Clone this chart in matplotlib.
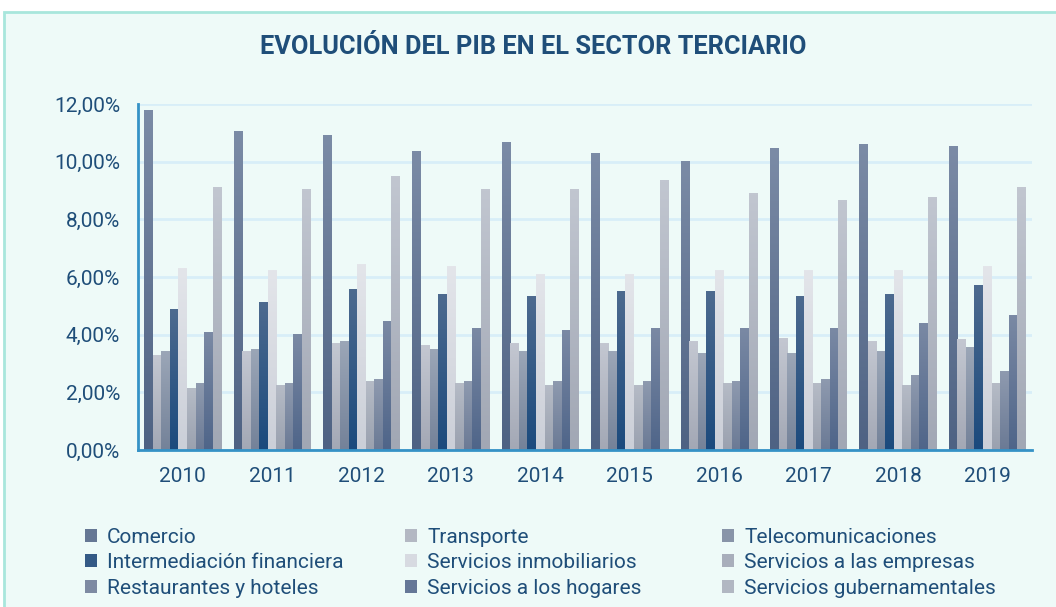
import numpy as np
import matplotlib.pyplot as plt
from matplotlib.patches import Patch, Rectangle
from matplotlib import font_manager
from matplotlib.ticker import FuncFormatter

years = ["2010", "2011", "2012", "2013", "2014", "2015", "2016", "2017", "2018", "2019"]

sectors = [
    "Comercio", "Transporte", "Telecomunicaciones",
    "Intermediación financiera", "Servicios inmobiliarios", "Servicios a las empresas",
    "Restaurantes y hoteles", "Servicios a los hogares", "Servicios gubernamentales",
]

comercio = [11.76, 11.03, 10.92, 10.34, 10.68, 10.27, 10.02, 10.47, 10.61, 10.51]
transporte = [3.29, 3.40, 3.68, 3.64, 3.68, 3.71, 3.75, 3.85, 3.78, 3.82]
telecom = [3.43, 3.47, 3.75, 3.50, 3.43, 3.43, 3.33, 3.36, 3.40, 3.57]
intermediacion = [4.89, 5.10, 5.58, 5.38, 5.34, 5.51, 5.51, 5.34, 5.41, 5.69]
inmobiliarios = [6.31, 6.21, 6.45, 6.38, 6.10, 6.10, 6.21, 6.21, 6.21, 6.38]
empresas = [2.15, 2.25, 2.39, 2.29, 2.22, 2.25, 2.29, 2.29, 2.25, 2.29]
restaurantes = [2.32, 2.32, 2.43, 2.39, 2.39, 2.39, 2.39, 2.46, 2.57, 2.71]
hogares = [4.09, 4.02, 4.47, 4.20, 4.16, 4.23, 4.20, 4.23, 4.40, 4.68]
gubernamentales = [9.12, 9.02, 9.47, 9.05, 9.02, 9.36, 8.91, 8.64, 8.74, 9.12]

series = [comercio, transporte, telecom, intermediacion, inmobiliarios,
          empresas, restaurantes, hogares, gubernamentales]

# gradient colours (top, bottom) for each sector
grad = [
    ("#7b8ba6", "#4e6283"),
    ("#c3c7d1", "#a3a8b5"),
    ("#9ba6b7", "#748299"),
    ("#4d6a8f", "#1b4a7d"),
    ("#e3e5ea", "#cbcfd8"),
    ("#b5bbc6", "#9aa1af"),
    ("#8e9aaf", "#6b7a95"),
    ("#7a89a4", "#4f6589"),
    ("#c1c6d0", "#a1a7b4"),
]

TXT = "#1f4e79"
BG = "#eefaf8"

names = {f.name for f in font_manager.fontManager.ttflist}
plt.rcParams['font.family'] = ['Roboto', 'DejaVu Sans']
title_font = 'Liberation Sans Narrow' if 'Liberation Sans Narrow' in names else 'Roboto'


def hex2rgb(h):
    h = h.lstrip('#')
    return np.array([int(h[i:i + 2], 16) / 255 for i in (0, 2, 4)])


def gradient(top, bottom, n=64):
    t = np.linspace(0, 1, n)[:, None]
    img = hex2rgb(top)[None, :] * (1 - t) + hex2rgb(bottom)[None, :] * t
    return img[:, None, :]


fig = plt.figure(figsize=(10.56, 6.07), dpi=100)
fig.patch.set_facecolor("white")
fig.patches.append(Rectangle((4 / 1056, -0.05), 1.1, 1 - 12 / 607 + 0.05,
                             transform=fig.transFigure, facecolor=BG,
                             edgecolor="#a8e6dc", linewidth=2, zorder=-10))

ax = fig.add_axes([138 / 1056, 157 / 607, 894 / 1056, 346 / 607])
ax.set_facecolor("none")

x = np.arange(len(years))
group_w = 0.86
bw = group_w / len(series)

handles = []
for i, vals in enumerate(series):
    top, bottom = grad[i]
    pos = x - group_w / 2 + bw * (i + 0.5)
    bars = ax.bar(pos, vals, bw, color=bottom, zorder=2)
    for r in bars:
        x0, w, h = r.get_x(), r.get_width(), r.get_height()
        ax.imshow(gradient(top, bottom), extent=[x0, x0 + w, 0, h],
                  aspect='auto', zorder=3, interpolation='bilinear')
    mid = (hex2rgb(top) + hex2rgb(bottom)) / 2
    handles.append(Patch(facecolor=mid, label=sectors[i]))

ax.set_xlim(-0.5, len(years) - 0.5)
ax.set_ylim(0, 12)
ax.set_yticks(np.arange(0, 12.01, 2))
ax.yaxis.set_major_formatter(FuncFormatter(lambda v, p: f"{v:.2f}".replace('.', ',') + "%"))
ax.set_xticks(x)
ax.set_xticklabels(years)

ax.grid(axis='y', color="#d8eef8", linewidth=2, zorder=0)
ax.set_axisbelow(True)
for s in ("top", "right"):
    ax.spines[s].set_visible(False)
for s in ("left", "bottom"):
    ax.spines[s].set_color("#3592c6")
    ax.spines[s].set_linewidth(2)
    ax.spines[s].set_zorder(5)
ax.tick_params(length=0, labelsize=15, labelcolor=TXT)
ax.tick_params(axis='y', pad=13)
ax.tick_params(axis='x', pad=12)

fig.text(533 / 1056, 1 - 47 / 607, "EVOLUCIÓN DEL PIB EN EL SECTOR TERCIARIO",
         ha='center', va='center', fontsize=18.3, fontweight='bold',
         color=TXT, family=title_font)

# legend: three columns placed by hand
col_x = [85, 405, 722]
for c in range(3):
    hs = [handles[c], handles[c + 3], handles[c + 6]]
    leg = fig.legend(handles=hs, loc='upper left',
                     bbox_to_anchor=(col_x[c] / 1056, 1 - 528 / 607),
                     frameon=False, fontsize=15, handlelength=0.58,
                     handleheight=0.58, handletextpad=0.48, labelspacing=0.3,
                     borderaxespad=0, borderpad=0)
    for t in leg.get_texts():
        t.set_color(TXT)

fig.savefig("out.png", dpi=100, facecolor=fig.get_facecolor())
